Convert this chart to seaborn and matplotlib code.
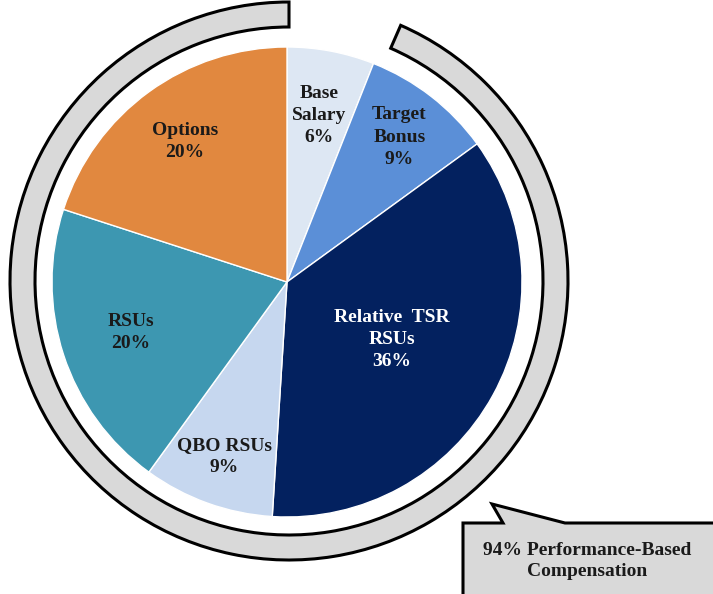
import matplotlib
matplotlib.use("Agg")
import matplotlib.pyplot as plt
from matplotlib.patches import Wedge, Polygon
import numpy as np
import seaborn as sns

# slices, clockwise from 12 o'clock
labels = ["Base\nSalary", "Target\nBonus", "Relative  TSR\nRSUs", "QBO RSUs", "RSUs", "Options"]
shares = [6, 9, 36, 9, 20, 20]
colors = ["#dde7f3", "#5b8fd7", "#03215f", "#c6d7ef", "#3d97b1", "#e1883f"]
text_colors = ["#1a1a1a", "#1a1a1a", "white", "#1a1a1a", "#1a1a1a", "#1a1a1a"]
label_dist = [0.72, 0.78, 0.51, 0.79, 0.70, 0.74]
callout_text = "94% Performance-Based\nCompensation"

W, H = 713, 594
sns.set_theme(style="white")
plt.rcParams["font.family"] = ["Liberation Serif", "DejaVu Serif"]

fig = plt.figure(figsize=(W / 100, H / 100), dpi=100)
ax = fig.add_axes([0, 0, 1, 1])

cx, cy, R = 287, H - 282, 235
wedges, _ = ax.pie(shares, colors=sns.color_palette(colors), startangle=90,
                   counterclock=False, center=(cx, cy), radius=R,
                   wedgeprops=dict(edgecolor="white", linewidth=1.0))

for w, lab, val, tc, d in zip(wedges, labels, shares, text_colors, label_dist):
    mid = np.deg2rad((w.theta1 + w.theta2) / 2)
    x = cx + d * R * np.cos(mid)
    y = cy + d * R * np.sin(mid)
    ax.text(x, y, f"{lab}\n{val}%", ha="center", va="center", color=tc,
            fontsize=14, fontweight="bold", linespacing=1.4)

# ring around the performance-based part
ring = Wedge((289, H - 281), 279, 90, 66.4 + 360, width=25,
             facecolor="#d9d9d9", edgecolor="black", linewidth=2.2)
ax.add_patch(ring)

# callout box with pointer
pts = [(463, H - 523), (503, H - 523), (492, H - 504), (565, H - 523),
       (716, H - 523), (716, -5), (463, -5)]
ax.add_patch(Polygon(pts, closed=True, facecolor="#d9d9d9", edgecolor="black",
                     linewidth=2.2, joinstyle="miter", clip_on=False))
ax.text(587, H - 561, callout_text, ha="center", va="center", color="#1a1a1a",
        fontsize=14, fontweight="bold", linespacing=1.35)

ax.set_xlim(0, W)
ax.set_ylim(0, H)
ax.set_aspect("equal")
ax.axis("off")

fig.savefig("out.png", dpi=100, facecolor="white")
